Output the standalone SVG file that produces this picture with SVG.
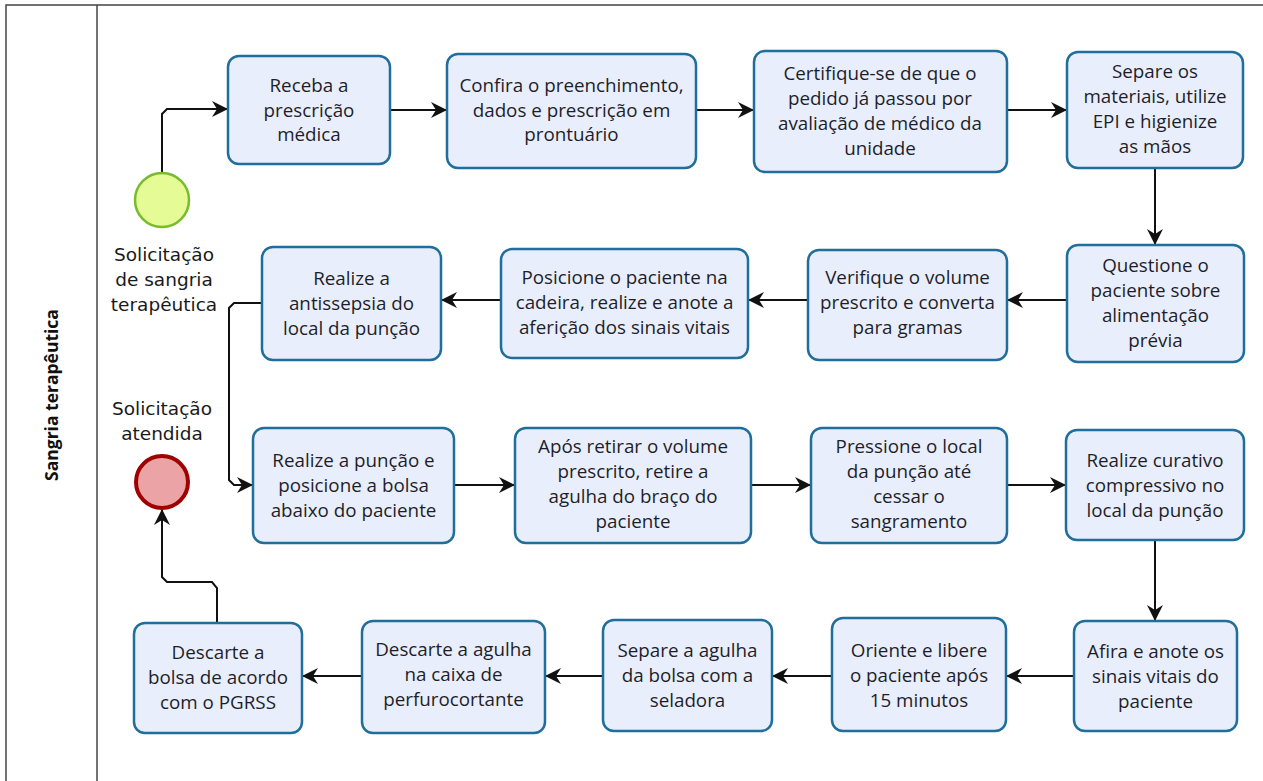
<svg xmlns="http://www.w3.org/2000/svg" width="1263" height="781" viewBox="0 0 1263 781">
<defs>
<style>
.box{fill:#e9eefc;stroke:#1f6e9c;stroke-width:2.5}
.t{font-family:"Open Sans","Noto Sans",sans-serif;font-size:18.8px;fill:#1e1e2a;text-anchor:middle}
.lbl{font-family:"DejaVu Sans","Noto Sans",sans-serif;font-size:18.5px;fill:#1a1a1a;text-anchor:middle}
.c{fill:none;stroke:#111;stroke-width:2}
.frame{fill:none;stroke:#444;stroke-width:1.5}
</style>
<marker id="arr" viewBox="0 0 16 16" refX="15" refY="8" markerWidth="16" markerHeight="16" markerUnits="userSpaceOnUse" orient="auto">
<path d="M0,0 L16,8 L0,16 L5,8 Z" fill="#111"/>
</marker>
</defs>
<rect width="1263" height="781" fill="#fff"/>
<g id="pool">
<rect class="frame" x="6" y="5" width="1280" height="800"/>
<line class="frame" x1="97" y1="5" x2="97" y2="781"/>
<text x="0" y="0" transform="translate(58,395) rotate(-90)" font-family="'Open Sans','Noto Sans',sans-serif" font-size="17.5" font-weight="bold" fill="#111" text-anchor="middle">Sangria terapêutica</text>
</g>
<g id="connectors">
<path class="c" d="M162,173 V114 L167,109 H227" marker-end="url(#arr)"/>
<path class="c" d="M390,110 H446" marker-end="url(#arr)"/>
<path class="c" d="M696,110 H753" marker-end="url(#arr)"/>
<path class="c" d="M1007,110 H1066" marker-end="url(#arr)"/>
<path class="c" d="M1155,168 V244" marker-end="url(#arr)"/>
<path class="c" d="M1067,300 H1008" marker-end="url(#arr)"/>
<path class="c" d="M808,300 H749" marker-end="url(#arr)"/>
<path class="c" d="M501,300 H442" marker-end="url(#arr)"/>
<path class="c" d="M262,303 H234 L229,308 V480 L234,485 H252" marker-end="url(#arr)"/>
<path class="c" d="M454,485 H514" marker-end="url(#arr)"/>
<path class="c" d="M751,485 H810" marker-end="url(#arr)"/>
<path class="c" d="M1007,485 H1065" marker-end="url(#arr)"/>
<path class="c" d="M1155,540 V620" marker-end="url(#arr)"/>
<path class="c" d="M1074,676 H1007" marker-end="url(#arr)"/>
<path class="c" d="M832,676 H773" marker-end="url(#arr)"/>
<path class="c" d="M603,676 H546" marker-end="url(#arr)"/>
<path class="c" d="M362,676 H303" marker-end="url(#arr)"/>
<path class="c" d="M217,623 V588 L212,582 H167 L162,577 V510" marker-end="url(#arr)"/>
</g>
<g id="start">
<circle cx="162" cy="200" r="27" fill="#e5fb96" stroke="#78bb2c" stroke-width="2.5"/>
<text class="lbl"><tspan x="164" y="261">Solicitação</tspan><tspan x="164" y="286">de sangria</tspan><tspan x="164" y="311">terapêutica</tspan></text>
</g>
<g id="end">
<circle cx="162" cy="482" r="26" fill="#eba3a6" stroke="#a00000" stroke-width="4"/>
<text class="lbl"><tspan x="162" y="415">Solicitação</tspan><tspan x="162" y="440">atendida</tspan></text>
</g>
<g id="n1"><rect class="box" x="228" y="56" width="162" height="108" rx="11"/>
<text class="t"><tspan x="309" y="92">Receba a</tspan><tspan x="309" y="116.5">prescrição</tspan><tspan x="309" y="141">médica</tspan></text></g>
<g id="n2"><rect class="box" x="447" y="54" width="249" height="114" rx="11"/>
<text class="t"><tspan x="571.5" y="92">Confira o preenchimento,</tspan><tspan x="571.5" y="116.5">dados e prescrição em</tspan><tspan x="571.5" y="141">prontuário</tspan></text></g>
<g id="n3"><rect class="box" x="754" y="51" width="253" height="121" rx="11"/>
<text class="t"><tspan x="880" y="80">Certifique-se de que o</tspan><tspan x="880" y="105">pedido já passou por</tspan><tspan x="880" y="130">avaliação de médico da</tspan><tspan x="880" y="155">unidade</tspan></text></g>
<g id="n4"><rect class="box" x="1067" y="52" width="176" height="116" rx="11"/>
<text class="t"><tspan x="1155" y="78">Separe os</tspan><tspan x="1155" y="103">materiais, utilize</tspan><tspan x="1155" y="128">EPI e higienize</tspan><tspan x="1155" y="153">as mãos</tspan></text></g>
<g id="n5"><rect class="box" x="1067" y="245" width="177" height="117" rx="11"/>
<text class="t"><tspan x="1155.5" y="272">Questione o</tspan><tspan x="1155.5" y="297">paciente sobre</tspan><tspan x="1155.5" y="322">alimentação</tspan><tspan x="1155.5" y="347">prévia</tspan></text></g>
<g id="n6"><rect class="box" x="808" y="250" width="199" height="110" rx="11"/>
<text class="t"><tspan x="907.5" y="284">Verifique o volume</tspan><tspan x="907.5" y="309">prescrito e converta</tspan><tspan x="907.5" y="334">para gramas</tspan></text></g>
<g id="n7"><rect class="box" x="501" y="249" width="247" height="109" rx="11"/>
<text class="t"><tspan x="624.5" y="284">Posicione o paciente na</tspan><tspan x="624.5" y="309">cadeira, realize e anote a</tspan><tspan x="624.5" y="334">aferição dos sinais vitais</tspan></text></g>
<g id="n8"><rect class="box" x="262" y="247" width="179" height="113" rx="11"/>
<text class="t"><tspan x="351.5" y="285">Realize a</tspan><tspan x="351.5" y="310">antissepsia do</tspan><tspan x="351.5" y="335">local da punção</tspan></text></g>
<g id="n9"><rect class="box" x="253" y="428" width="201" height="115" rx="11"/>
<text class="t"><tspan x="353.5" y="467">Realize a punção e</tspan><tspan x="353.5" y="492">posicione a bolsa</tspan><tspan x="353.5" y="517">abaixo do paciente</tspan></text></g>
<g id="n10"><rect class="box" x="515" y="428" width="236" height="115" rx="11"/>
<text class="t"><tspan x="633" y="453">Após retirar o volume</tspan><tspan x="633" y="478">prescrito, retire a</tspan><tspan x="633" y="503">agulha do braço do</tspan><tspan x="633" y="528">paciente</tspan></text></g>
<g id="n11"><rect class="box" x="811" y="428" width="196" height="115" rx="11"/>
<text class="t"><tspan x="909" y="453">Pressione o local</tspan><tspan x="909" y="478">da punção até</tspan><tspan x="909" y="503">cessar o</tspan><tspan x="909" y="528">sangramento</tspan></text></g>
<g id="n12"><rect class="box" x="1066" y="430" width="178" height="110" rx="11"/>
<text class="t"><tspan x="1155" y="467">Realize curativo</tspan><tspan x="1155" y="492">compressivo no</tspan><tspan x="1155" y="517">local da punção</tspan></text></g>
<g id="n13"><rect class="box" x="1074" y="621" width="163" height="110" rx="11"/>
<text class="t"><tspan x="1155.5" y="657.5">Afira e anote os</tspan><tspan x="1155.5" y="682.5">sinais vitais do</tspan><tspan x="1155.5" y="707.5">paciente</tspan></text></g>
<g id="n14"><rect class="box" x="832" y="618" width="174" height="113" rx="11"/>
<text class="t"><tspan x="919" y="657">Oriente e libere</tspan><tspan x="919" y="682">o paciente após</tspan><tspan x="919" y="707">15 minutos</tspan></text></g>
<g id="n15"><rect class="box" x="603" y="620" width="169" height="111" rx="11"/>
<text class="t"><tspan x="687.5" y="657">Separe a agulha</tspan><tspan x="687.5" y="682">da bolsa com a</tspan><tspan x="687.5" y="707">seladora</tspan></text></g>
<g id="n16"><rect class="box" x="362" y="621" width="183" height="112" rx="11"/>
<text class="t"><tspan x="453.5" y="656">Descarte a agulha</tspan><tspan x="453.5" y="681">na caixa de</tspan><tspan x="453.5" y="706">perfurocortante</tspan></text></g>
<g id="n17"><rect class="box" x="134" y="623" width="168" height="110" rx="11"/>
<text class="t"><tspan x="218" y="659">Descarte a</tspan><tspan x="218" y="684">bolsa de acordo</tspan><tspan x="218" y="709">com o PGRSS</tspan></text></g>
</svg>
